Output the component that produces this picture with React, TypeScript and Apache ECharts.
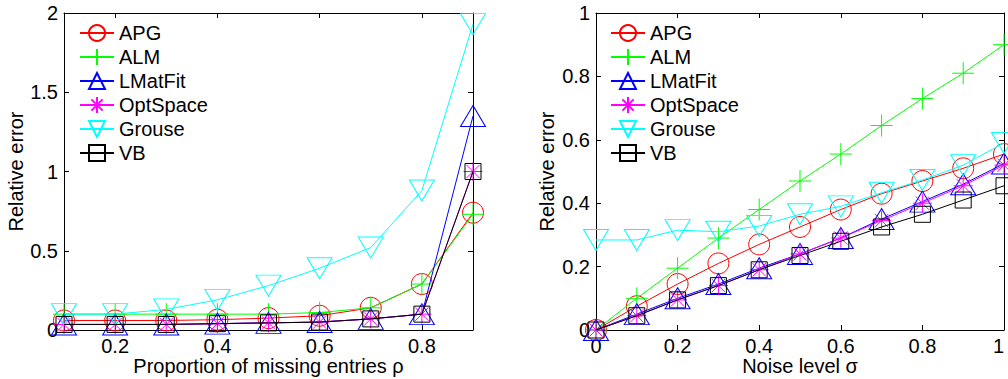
import React, { useEffect, useRef } from "react";
import * as echarts from "echarts";

const NAMES = ["APG", "ALM", "LMatFit", "OptSpace", "Grouse", "VB"];
const COLORS = ["#ff0000", "#00ff00", "#0000ff", "#ff00ff", "#00ffff", "#000000"];

// Left panel: proportion of missing entries
const RHO = [0.1, 0.2, 0.3, 0.4, 0.5, 0.6, 0.7, 0.8, 0.9];
const L_APG = [0.06, 0.06, 0.06, 0.065, 0.075, 0.09, 0.14, 0.29, 0.74];
const L_ALM = [0.1, 0.1, 0.1, 0.1, 0.1, 0.11, 0.14, 0.29, 0.73];
const L_LMATFIT = [0.035, 0.035, 0.035, 0.04, 0.045, 0.05, 0.07, 0.1, 1.35];
const L_OPTSPACE = [0.035, 0.035, 0.035, 0.04, 0.045, 0.05, 0.07, 0.1, 1.0];
const L_GROUSE = [0.1, 0.1, 0.13, 0.19, 0.28, 0.39, 0.52, 0.88, 1.93];
const L_VB = [0.035, 0.035, 0.035, 0.04, 0.045, 0.05, 0.07, 0.1, 1.0];
const L_XTICKS = [0.2, 0.4, 0.6, 0.8];
const L_YTICKS = [0, 0.5, 1, 1.5, 2];

// Right panel: noise level
const SIGMA = [0, 0.1, 0.2, 0.3, 0.4, 0.5, 0.6, 0.7, 0.8, 0.9, 1.0];
const R_APG = [0, 0.075, 0.145, 0.21, 0.27, 0.325, 0.38, 0.43, 0.47, 0.51, 0.555];
const R_ALM = [0, 0.1, 0.195, 0.29, 0.38, 0.47, 0.555, 0.645, 0.73, 0.81, 0.9];
const R_LMATFIT = [0, 0.05, 0.1, 0.145, 0.195, 0.24, 0.29, 0.35, 0.405, 0.46, 0.525];
const R_OPTSPACE = [0, 0.045, 0.095, 0.14, 0.19, 0.24, 0.29, 0.345, 0.4, 0.455, 0.52];
const R_GROUSE = [0.284, 0.284, 0.315, 0.31, 0.328, 0.365, 0.39, 0.433, 0.473, 0.52, 0.59];
const R_VB = [0, 0.045, 0.095, 0.14, 0.19, 0.235, 0.28, 0.325, 0.365, 0.41, 0.455];
const R_XTICKS = [0, 0.2, 0.4, 0.6, 0.8, 1];
const R_YTICKS = [0, 0.2, 0.4, 0.6, 0.8, 1];

const LEFT_DATA = [L_APG, L_ALM, L_LMATFIT, L_OPTSPACE, L_GROUSE, L_VB];
const RIGHT_DATA = [R_APG, R_ALM, R_LMATFIT, R_OPTSPACE, R_GROUSE, R_VB];

const PLUS = "path://M0,-1L0,1M-1,0L1,0";
const STAR = "path://M0,-1L0,1M-1,0L1,0M-0.7,-0.7L0.7,0.7M-0.7,0.7L0.7,-0.7";
const SYMBOLS = ["circle", PLUS, "triangle", STAR, "triangle", "rect"];
const ROTATE = [0, 0, 0, 0, 180, 0];
const SIZES: any[] = [21, 22, [25, 21], 19, [25, 21], 16];

const FONT = "Liberation Sans, Arial, sans-serif";
const FS = 20;

function fmt(v: number) {
  return String(Math.round(v * 10) / 10);
}

export default function App() {
  const ref = useRef<HTMLDivElement>(null);
  useEffect(() => {
    if (!ref.current) return;
    const chart = echarts.init(ref.current, undefined, { renderer: "svg" });

    const axisCommon = {
      axisLine: { show: true, onZero: false, lineStyle: { color: "#000", width: 1 } },
      splitLine: { show: false },
    };
    const tick = (ticks: number[]) => ({
      show: true,
      inside: true,
      length: 5,
      customValues: ticks,
      lineStyle: { color: "#000" },
    });

    const mkX = (gi: number, min: number, max: number, ticks: number[], name: string, alignMax?: string) => [
      {
        type: "value",
        gridIndex: gi,
        min,
        max,
        position: "bottom",
        ...axisCommon,
        name,
        nameLocation: "middle",
        nameGap: 26,
        nameMoveOverlap: false,
        nameTextStyle: { color: "#000", fontSize: FS, fontFamily: FONT, lineHeight: 20 },
        axisTick: tick(ticks),
        axisLabel: {
          show: true,
          customValues: ticks,
          color: "#000",
          fontSize: FS,
          fontFamily: FONT,
          lineHeight: 20,
          margin: 6,
          alignMaxLabel: alignMax,
          formatter: (v: number) => fmt(v),
        },
      },
      {
        type: "value",
        gridIndex: gi,
        min,
        max,
        position: "top",
        ...axisCommon,
        axisTick: tick(ticks),
        axisLabel: { show: false },
      },
    ];

    const mkY = (gi: number, min: number, max: number, ticks: number[], gap: number) => [
      {
        type: "value",
        gridIndex: gi,
        min,
        max,
        position: "left",
        ...axisCommon,
        name: "Relative error",
        nameLocation: "middle",
        nameGap: gap,
        nameMoveOverlap: false,
        nameTextStyle: { color: "#000", fontSize: FS, fontFamily: FONT },
        axisTick: tick(ticks),
        axisLabel: {
          show: true,
          customValues: ticks,
          color: "#000",
          fontSize: FS,
          fontFamily: FONT,
          margin: 6,
          formatter: (v: number) => fmt(v),
        },
      },
      {
        type: "value",
        gridIndex: gi,
        min,
        max,
        position: "right",
        ...axisCommon,
        axisTick: tick(ticks),
        axisLabel: { show: false },
      },
    ];

    const mkSeries = (xs: number[], data: number[][], axisBase: number) =>
      NAMES.map((n, i) => ({
        type: "line",
        name: n,
        xAxisIndex: axisBase,
        yAxisIndex: axisBase,
        data: xs.map((x, k) => [x, data[i][k]]),
        symbol: SYMBOLS[i],
        symbolSize: SIZES[i],
        symbolRotate: ROTATE[i],
        showAllSymbol: true,
        color: COLORS[i],
        lineStyle: { color: COLORS[i], width: 1 },
        itemStyle: { color: "rgba(0,0,0,0)", borderColor: COLORS[i], borderWidth: 1 },
        emphasis: { disabled: true },
        clip: false,
        z: 2 + i,
      }));

    const legendCommon = {
      orient: "vertical",
      data: NAMES,
      itemWidth: 34,
      itemHeight: 20,
      itemGap: 4,
      padding: 0,
      selectedMode: false,
      textStyle: { color: "#000", fontSize: FS, fontFamily: FONT },
    };

    chart.setOption({
      animation: false,
      backgroundColor: "#fff",
      grid: [
        { left: 64, right: 535, top: 13, bottom: 49, show: false, outerBoundsMode: "none", containLabel: false },
        { left: 596, right: 4, top: 13, bottom: 49, show: false, outerBoundsMode: "none", containLabel: false },
      ],
      xAxis: [
        ...mkX(0, 0.1, 0.9, L_XTICKS, "Proportion of missing entries ρ"),
        ...mkX(1, 0, 1, R_XTICKS, "Noise level σ", "right"),
      ],
      yAxis: [...mkY(0, 0, 2, L_YTICKS, 38), ...mkY(1, 0, 1, R_YTICKS, 39)],
      legend: [
        { ...legendCommon, left: 79, top: 23 },
        { ...legendCommon, left: 610, top: 23 },
      ],
      series: [...mkSeries(RHO, LEFT_DATA, 0), ...mkSeries(SIGMA, RIGHT_DATA, 2)],
    } as any);

    return () => chart.dispose();
  }, []);

  return <div ref={ref} style={{ width: 1008, height: 379, position: "absolute", left: 0, top: 0 }} />;
}
